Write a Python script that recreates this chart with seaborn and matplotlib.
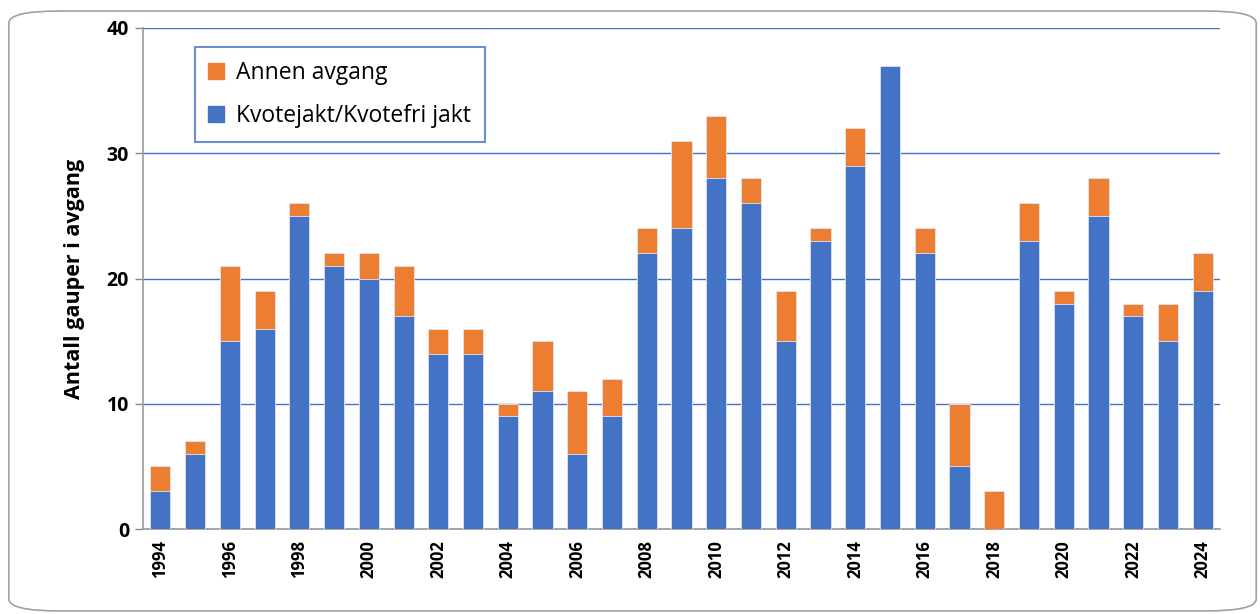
# -*- coding: utf-8 -*-
# Gaupe avgang 1994-2024, stacked bars

import numpy as np
import pandas as pd
import matplotlib.pyplot as plt
import seaborn as sns
from matplotlib.patches import FancyBboxPatch, Patch

# %% Data

years = list(range(1994, 2025))
kvotejakt = [3, 6, 15, 16, 25, 21, 20, 17, 14, 14, 9, 11, 6, 9, 22, 24,
             28, 26, 15, 23, 29, 37, 22, 5, 0, 23, 18, 25, 17, 15, 19]
annen = [2, 1, 6, 3, 1, 1, 2, 4, 2, 2, 1, 4, 5, 3, 2, 7,
         5, 2, 4, 1, 3, 0, 2, 5, 3, 3, 1, 3, 1, 3, 3]

df = pd.DataFrame({"year": [str(y) for y in years],
                   "kvote": kvotejakt,
                   "annen": annen})
df["total"] = df["kvote"] + df["annen"]

blue = "#4472C4"
orange = "#ED7D31"

# %% Plot

sns.set_style("white")
plt.rcParams["font.family"] = ["Open Sans", "DejaVu Sans"]
plt.rcParams["text.color"] = "black"
plt.rcParams["axes.labelcolor"] = "black"
plt.rcParams["xtick.color"] = "black"
plt.rcParams["ytick.color"] = "black"

fig = plt.figure(figsize=(12.6, 6.14), dpi=100)
ax = fig.add_axes([0.1135, 0.1384, 0.8548, 0.8160])

sns.barplot(data=df, x="year", y="total", color=orange, saturation=1,
            width=0.58, edgecolor="#dfe6f3", linewidth=0.6, ax=ax, zorder=3)
sns.barplot(data=df, x="year", y="kvote", color=blue, saturation=1,
            width=0.58, edgecolor="#dfe6f3", linewidth=0.6, ax=ax, zorder=3)

ax.set_xlim(-0.5, len(years) - 0.5)
ax.set_ylim(0, 40)
ax.set_yticks([0, 10, 20, 30, 40])
ax.yaxis.grid(True, color="#4472C4", linewidth=1.0, zorder=0)
ax.set_axisbelow(True)

ax.set_xticks(range(0, len(years), 2))
ax.set_xticklabels([str(y) for y in years[::2]], rotation=90,
                   fontsize=12, fontweight="bold")
for lab in ax.get_yticklabels():
    lab.set_fontsize(14)
    lab.set_fontweight("bold")

ax.tick_params(axis="y", length=6, color="#888888", labelcolor="black",
               width=1, pad=4, left=True)
ax.tick_params(axis="x", length=0, pad=8, labelcolor="black")

ax.set_xlabel("")
ax.set_ylabel("Antall gauper i avgang", fontsize=15.5, fontweight="bold",
              labelpad=16, color="black")

for side in ["top", "right"]:
    ax.spines[side].set_visible(False)
ax.spines["left"].set_color("#999999")
ax.spines["bottom"].set_color("#999999")
ax.spines["left"].set_linewidth(1.2)
ax.spines["bottom"].set_linewidth(1.2)

handles = [Patch(color=orange, label="Annen avgang"),
           Patch(color=blue, label="Kvotejakt/Kvotefri jakt")]
leg = ax.legend(handles=handles, loc="upper left",
                bbox_to_anchor=(0.048, 0.962), fontsize=16.5,
                frameon=True, fancybox=False, handlelength=0.7,
                handleheight=0.7, handletextpad=0.5, borderpad=0.6,
                labelspacing=0.85, borderaxespad=0)
leg.get_frame().set_edgecolor(blue)
leg.get_frame().set_linewidth(1.5)
for t in leg.get_texts():
    t.set_color("black")

# rounded outer frame
frame = FancyBboxPatch((0.007, 0.005), 0.99, 0.977,
                       boxstyle="round,pad=0,rounding_size=0.04",
                       transform=fig.transFigure, fill=False,
                       edgecolor="#a0a0a0", linewidth=1.2,
                       mutation_aspect=614 / 1260)
fig.patches.append(frame)

fig.savefig("out.png", dpi=100)
